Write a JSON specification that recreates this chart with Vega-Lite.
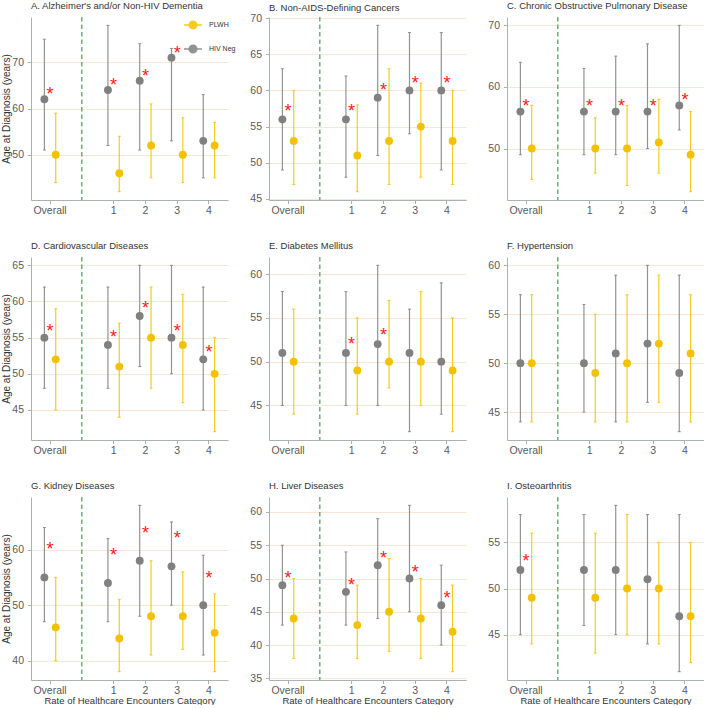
{
"$schema":"https://vega.github.io/schema/vega-lite/v6.json",
"padding":{"left":1,"top":0,"right":0,"bottom":0},
"columns":3,
"spacing":{"row":57,"column":41},
"bounds":"flush",
"datasets":{"d":[
{"p":"A","c":"Overall","g":"HIV Neg","est":62,"lo":51,"hi":75,"star":64},
{"p":"A","c":"Overall","g":"PLWH","est":50,"lo":44,"hi":59,"star":null},
{"p":"A","c":"1","g":"HIV Neg","est":64,"lo":52,"hi":78,"star":65.9},
{"p":"A","c":"1","g":"PLWH","est":46,"lo":42,"hi":54,"star":null},
{"p":"A","c":"2","g":"HIV Neg","est":66,"lo":51,"hi":74,"star":67.9},
{"p":"A","c":"2","g":"PLWH","est":52,"lo":45,"hi":61,"star":null},
{"p":"A","c":"3","g":"HIV Neg","est":71,"lo":53,"hi":73,"star":72.9},
{"p":"A","c":"3","g":"PLWH","est":50,"lo":44,"hi":58,"star":null},
{"p":"A","c":"4","g":"HIV Neg","est":53,"lo":45,"hi":63,"star":null},
{"p":"A","c":"4","g":"PLWH","est":52,"lo":45,"hi":57,"star":null},
{"p":"B","c":"Overall","g":"HIV Neg","est":56,"lo":49,"hi":63,"star":57.7},
{"p":"B","c":"Overall","g":"PLWH","est":53,"lo":47,"hi":60,"star":null},
{"p":"B","c":"1","g":"HIV Neg","est":56,"lo":48,"hi":62,"star":57.7},
{"p":"B","c":"1","g":"PLWH","est":51,"lo":46,"hi":58,"star":null},
{"p":"B","c":"2","g":"HIV Neg","est":59,"lo":51,"hi":69,"star":60.6},
{"p":"B","c":"2","g":"PLWH","est":53,"lo":47,"hi":63,"star":null},
{"p":"B","c":"3","g":"HIV Neg","est":60,"lo":54,"hi":68,"star":61.6},
{"p":"B","c":"3","g":"PLWH","est":55,"lo":48,"hi":61,"star":null},
{"p":"B","c":"4","g":"HIV Neg","est":60,"lo":49,"hi":68,"star":61.6},
{"p":"B","c":"4","g":"PLWH","est":53,"lo":47,"hi":60,"star":null},
{"p":"C","c":"Overall","g":"HIV Neg","est":56,"lo":49,"hi":64,"star":57.6},
{"p":"C","c":"Overall","g":"PLWH","est":50,"lo":45,"hi":57,"star":null},
{"p":"C","c":"1","g":"HIV Neg","est":56,"lo":49,"hi":63,"star":57.6},
{"p":"C","c":"1","g":"PLWH","est":50,"lo":46,"hi":55,"star":null},
{"p":"C","c":"2","g":"HIV Neg","est":56,"lo":49,"hi":65,"star":57.6},
{"p":"C","c":"2","g":"PLWH","est":50,"lo":44,"hi":57,"star":null},
{"p":"C","c":"3","g":"HIV Neg","est":56,"lo":50,"hi":67,"star":57.6},
{"p":"C","c":"3","g":"PLWH","est":51,"lo":46,"hi":58,"star":null},
{"p":"C","c":"4","g":"HIV Neg","est":57,"lo":53,"hi":70,"star":58.6},
{"p":"C","c":"4","g":"PLWH","est":49,"lo":43,"hi":56,"star":null},
{"p":"D","c":"Overall","g":"HIV Neg","est":55,"lo":48,"hi":62,"star":56.5},
{"p":"D","c":"Overall","g":"PLWH","est":52,"lo":45,"hi":59,"star":null},
{"p":"D","c":"1","g":"HIV Neg","est":54,"lo":48,"hi":62,"star":55.6},
{"p":"D","c":"1","g":"PLWH","est":51,"lo":44,"hi":57,"star":null},
{"p":"D","c":"2","g":"HIV Neg","est":58,"lo":51,"hi":65,"star":59.6},
{"p":"D","c":"2","g":"PLWH","est":55,"lo":48,"hi":62,"star":null},
{"p":"D","c":"3","g":"HIV Neg","est":55,"lo":50,"hi":65,"star":56.5},
{"p":"D","c":"3","g":"PLWH","est":54,"lo":46,"hi":61,"star":null},
{"p":"D","c":"4","g":"HIV Neg","est":52,"lo":45,"hi":62,"star":53.6},
{"p":"D","c":"4","g":"PLWH","est":50,"lo":42,"hi":55,"star":null},
{"p":"E","c":"Overall","g":"HIV Neg","est":51,"lo":45,"hi":58,"star":null},
{"p":"E","c":"Overall","g":"PLWH","est":50,"lo":44,"hi":56,"star":null},
{"p":"E","c":"1","g":"HIV Neg","est":51,"lo":45,"hi":58,"star":52.5},
{"p":"E","c":"1","g":"PLWH","est":49,"lo":44,"hi":55,"star":null},
{"p":"E","c":"2","g":"HIV Neg","est":52,"lo":45,"hi":61,"star":53.5},
{"p":"E","c":"2","g":"PLWH","est":50,"lo":47,"hi":57,"star":null},
{"p":"E","c":"3","g":"HIV Neg","est":51,"lo":42,"hi":56,"star":null},
{"p":"E","c":"3","g":"PLWH","est":50,"lo":45,"hi":58,"star":null},
{"p":"E","c":"4","g":"HIV Neg","est":50,"lo":44,"hi":59,"star":null},
{"p":"E","c":"4","g":"PLWH","est":49,"lo":42,"hi":55,"star":null},
{"p":"F","c":"Overall","g":"HIV Neg","est":50,"lo":44,"hi":57,"star":null},
{"p":"F","c":"Overall","g":"PLWH","est":50,"lo":44,"hi":57,"star":null},
{"p":"F","c":"1","g":"HIV Neg","est":50,"lo":45,"hi":56,"star":null},
{"p":"F","c":"1","g":"PLWH","est":49,"lo":44,"hi":55,"star":null},
{"p":"F","c":"2","g":"HIV Neg","est":51,"lo":44,"hi":59,"star":null},
{"p":"F","c":"2","g":"PLWH","est":50,"lo":44,"hi":57,"star":null},
{"p":"F","c":"3","g":"HIV Neg","est":52,"lo":46,"hi":60,"star":null},
{"p":"F","c":"3","g":"PLWH","est":52,"lo":46,"hi":59,"star":null},
{"p":"F","c":"4","g":"HIV Neg","est":49,"lo":43,"hi":59,"star":null},
{"p":"F","c":"4","g":"PLWH","est":51,"lo":44,"hi":57,"star":null},
{"p":"G","c":"Overall","g":"HIV Neg","est":55,"lo":47,"hi":64,"star":60.8},
{"p":"G","c":"Overall","g":"PLWH","est":46,"lo":40,"hi":55,"star":null},
{"p":"G","c":"1","g":"HIV Neg","est":54,"lo":47,"hi":62,"star":59.8},
{"p":"G","c":"1","g":"PLWH","est":44,"lo":38,"hi":51,"star":null},
{"p":"G","c":"2","g":"HIV Neg","est":58,"lo":48,"hi":68,"star":63.8},
{"p":"G","c":"2","g":"PLWH","est":48,"lo":41,"hi":58,"star":null},
{"p":"G","c":"3","g":"HIV Neg","est":57,"lo":50,"hi":65,"star":62.8},
{"p":"G","c":"3","g":"PLWH","est":48,"lo":42,"hi":56,"star":null},
{"p":"G","c":"4","g":"HIV Neg","est":50,"lo":41,"hi":59,"star":55.7},
{"p":"G","c":"4","g":"PLWH","est":45,"lo":38,"hi":52,"star":null},
{"p":"H","c":"Overall","g":"HIV Neg","est":49,"lo":43,"hi":55,"star":50.65},
{"p":"H","c":"Overall","g":"PLWH","est":44,"lo":38,"hi":50,"star":null},
{"p":"H","c":"1","g":"HIV Neg","est":48,"lo":43,"hi":54,"star":49.65},
{"p":"H","c":"1","g":"PLWH","est":43,"lo":38,"hi":49,"star":null},
{"p":"H","c":"2","g":"HIV Neg","est":52,"lo":44,"hi":59,"star":53.65},
{"p":"H","c":"2","g":"PLWH","est":45,"lo":39,"hi":53,"star":null},
{"p":"H","c":"3","g":"HIV Neg","est":50,"lo":45,"hi":61,"star":51.65},
{"p":"H","c":"3","g":"PLWH","est":44,"lo":38,"hi":50,"star":null},
{"p":"H","c":"4","g":"HIV Neg","est":46,"lo":40,"hi":52,"star":47.65},
{"p":"H","c":"4","g":"PLWH","est":42,"lo":36,"hi":49,"star":null},
{"p":"I","c":"Overall","g":"HIV Neg","est":52,"lo":45,"hi":58,"star":53.4},
{"p":"I","c":"Overall","g":"PLWH","est":49,"lo":44,"hi":56,"star":null},
{"p":"I","c":"1","g":"HIV Neg","est":52,"lo":46,"hi":58,"star":null},
{"p":"I","c":"1","g":"PLWH","est":49,"lo":43,"hi":56,"star":null},
{"p":"I","c":"2","g":"HIV Neg","est":52,"lo":45,"hi":59,"star":null},
{"p":"I","c":"2","g":"PLWH","est":50,"lo":45,"hi":58,"star":null},
{"p":"I","c":"3","g":"HIV Neg","est":51,"lo":44,"hi":58,"star":null},
{"p":"I","c":"3","g":"PLWH","est":50,"lo":44,"hi":55,"star":null},
{"p":"I","c":"4","g":"HIV Neg","est":47,"lo":41,"hi":58,"star":null},
{"p":"I","c":"4","g":"PLWH","est":47,"lo":42,"hi":55,"star":null}
]},
"config":{
"font":"Liberation Sans",
"view":{"stroke":null},
"axis":{"domainColor":"#a9b1b1","tickColor":"#a9b1b1","labelColor":"#5a5a5a","labelFontSize":10.5,"titleFontSize":10,"titleFontWeight":"normal","titleColor":"#333333","tickSize":3.5,"labelFont":"Liberation Sans","titleFont":"Liberation Sans","labelOverlap":false},
"axisX":{"grid":false,"labelAngle":0,"labelPadding":2,"titlePadding":-1,"titleFontSize":9.5},
"axisY":{"grid":true,"gridColor":"#fbe6d6","gridWidth":1,"labelPadding":4,"titlePadding":0,"tickCount":12},
"title":{"fontSize":9.5,"fontWeight":"normal","anchor":"start","color":"#333333","offset":6,"font":"Liberation Sans","frame":"group"}
},
"concat":[
{"width":197,"height":183,"title":"A. Alzheimer's and/or Non-HIV Dementia","data":{"name":"d"},"transform":[{"filter":"datum.p=='A'"}],"layer":[
{"data":{"values":[{"p":"A"}]},"mark":{"type":"rule","color":"#4e9a4e","strokeDash":[4.5,3],"strokeWidth":1.2},"encoding":{"x":{"datum":"gap","type":"nominal"}}},
{"mark":{"type":"rule","strokeWidth":1.2,"opacity":0.85},"encoding":{"x":{"field":"c","type":"nominal"},"xOffset":{"field":"g","type":"nominal"},"y":{"field":"lo","type":"quantitative"},"y2":{"field":"hi"},"color":{"field":"g","type":"nominal"}}},
{"mark":{"type":"tick","thickness":1,"size":3,"opacity":0.85},"encoding":{"x":{"field":"c","type":"nominal"},"xOffset":{"field":"g","type":"nominal"},"y":{"field":"lo","type":"quantitative"},"color":{"field":"g","type":"nominal"}}},
{"mark":{"type":"tick","thickness":1,"size":3,"opacity":0.85},"encoding":{"x":{"field":"c","type":"nominal"},"xOffset":{"field":"g","type":"nominal"},"y":{"field":"hi","type":"quantitative"},"color":{"field":"g","type":"nominal"}}},
{"mark":{"type":"point","filled":true,"size":62,"opacity":1},"encoding":{
"x":{"field":"c","type":"nominal","scale":{"type":"band","domain":["Overall","gap","1","2","3","4"],"paddingInner":0,"paddingOuter":0.1},"axis":{"values":["Overall","1","2","3","4"],"title":null}},
"xOffset":{"field":"g","type":"nominal","scale":{"domain":["HIV Neg","PLWH"],"paddingInner":0,"paddingOuter":0.4}},
"y":{"field":"est","type":"quantitative","scale":{"domain":[40.2,79.8],"nice":false,"zero":false},"axis":{"values":[50,60,70],"title":"Age at Diagnosis (years)"}},
"color":{"field":"g","type":"nominal","scale":{"domain":["PLWH","HIV Neg"],"range":["#f2c200","#808080"]},"legend":{"orient":"none","legendX":152,"legendY":-2,"title":null,"symbolType":"M-1,0L1,0M0.42,0A0.42,0.42,0,1,1,-0.42,0A0.42,0.42,0,1,1,0.42,0Z","symbolSize":320,"labelFontSize":7,"labelColor":"#333333","rowPadding":7,"labelOffset":6,"encode":{"symbols":{"update":{"stroke":{"scale":"color","field":"value"},"strokeWidth":{"value":1.3}}}}}}}},
{"transform":[{"filter":"datum.star != null"}],"mark":{"type":"text","text":"*","color":"#ff1a1a","fontSize":18,"dy":10,"baseline":"alphabetic"},"encoding":{"x":{"field":"c","type":"nominal"},"y":{"field":"star","type":"quantitative"}}}
]},
{"width":197,"height":183,"title":{"text":"B. Non-AIDS-Defining Cancers","offset":1},"data":{"name":"d"},"transform":[{"filter":"datum.p=='B'"}],"layer":[
{"data":{"values":[{"p":"B"}]},"mark":{"type":"rule","color":"#4e9a4e","strokeDash":[4.5,3],"strokeWidth":1.2},"encoding":{"x":{"datum":"gap","type":"nominal"}}},
{"mark":{"type":"rule","strokeWidth":1.2,"opacity":0.85},"encoding":{"x":{"field":"c","type":"nominal"},"xOffset":{"field":"g","type":"nominal"},"y":{"field":"lo","type":"quantitative"},"y2":{"field":"hi"},"color":{"field":"g","type":"nominal"}}},
{"mark":{"type":"tick","thickness":1,"size":3,"opacity":0.85},"encoding":{"x":{"field":"c","type":"nominal"},"xOffset":{"field":"g","type":"nominal"},"y":{"field":"lo","type":"quantitative"},"color":{"field":"g","type":"nominal"}}},
{"mark":{"type":"tick","thickness":1,"size":3,"opacity":0.85},"encoding":{"x":{"field":"c","type":"nominal"},"xOffset":{"field":"g","type":"nominal"},"y":{"field":"hi","type":"quantitative"},"color":{"field":"g","type":"nominal"}}},
{"mark":{"type":"point","filled":true,"size":62,"opacity":1},"encoding":{
"x":{"field":"c","type":"nominal","scale":{"type":"band","domain":["Overall","gap","1","2","3","4"],"paddingInner":0,"paddingOuter":0.1},"axis":{"values":["Overall","1","2","3","4"],"title":null}},
"xOffset":{"field":"g","type":"nominal","scale":{"domain":["HIV Neg","PLWH"],"paddingInner":0,"paddingOuter":0.4}},
"y":{"field":"est","type":"quantitative","scale":{"domain":[44.85,70.15],"nice":false,"zero":false},"axis":{"values":[45,50,55,60,65,70],"title":null}},
"color":{"field":"g","type":"nominal"}}},
{"transform":[{"filter":"datum.star != null"}],"mark":{"type":"text","text":"*","color":"#ff1a1a","fontSize":18,"dy":10,"baseline":"alphabetic"},"encoding":{"x":{"field":"c","type":"nominal"},"y":{"field":"star","type":"quantitative"}}}
]},
{"width":197,"height":183,"title":"C. Chronic Obstructive Pulmonary Disease","data":{"name":"d"},"transform":[{"filter":"datum.p=='C'"}],"layer":[
{"data":{"values":[{"p":"C"}]},"mark":{"type":"rule","color":"#4e9a4e","strokeDash":[4.5,3],"strokeWidth":1.2},"encoding":{"x":{"datum":"gap","type":"nominal"}}},
{"mark":{"type":"rule","strokeWidth":1.2,"opacity":0.85},"encoding":{"x":{"field":"c","type":"nominal"},"xOffset":{"field":"g","type":"nominal"},"y":{"field":"lo","type":"quantitative"},"y2":{"field":"hi"},"color":{"field":"g","type":"nominal"}}},
{"mark":{"type":"tick","thickness":1,"size":3,"opacity":0.85},"encoding":{"x":{"field":"c","type":"nominal"},"xOffset":{"field":"g","type":"nominal"},"y":{"field":"lo","type":"quantitative"},"color":{"field":"g","type":"nominal"}}},
{"mark":{"type":"tick","thickness":1,"size":3,"opacity":0.85},"encoding":{"x":{"field":"c","type":"nominal"},"xOffset":{"field":"g","type":"nominal"},"y":{"field":"hi","type":"quantitative"},"color":{"field":"g","type":"nominal"}}},
{"mark":{"type":"point","filled":true,"size":62,"opacity":1},"encoding":{
"x":{"field":"c","type":"nominal","scale":{"type":"band","domain":["Overall","gap","1","2","3","4"],"paddingInner":0,"paddingOuter":0.1},"axis":{"values":["Overall","1","2","3","4"],"title":null}},
"xOffset":{"field":"g","type":"nominal","scale":{"domain":["HIV Neg","PLWH"],"paddingInner":0,"paddingOuter":0.4}},
"y":{"field":"est","type":"quantitative","scale":{"domain":[41.65,71.35],"nice":false,"zero":false},"axis":{"values":[50,60,70],"title":null}},
"color":{"field":"g","type":"nominal"}}},
{"transform":[{"filter":"datum.star != null"}],"mark":{"type":"text","text":"*","color":"#ff1a1a","fontSize":18,"dy":10,"baseline":"alphabetic"},"encoding":{"x":{"field":"c","type":"nominal"},"y":{"field":"star","type":"quantitative"}}}
]},
{"width":197,"height":183,"title":"D. Cardiovascular Diseases","data":{"name":"d"},"transform":[{"filter":"datum.p=='D'"}],"layer":[
{"data":{"values":[{"p":"D"}]},"mark":{"type":"rule","color":"#4e9a4e","strokeDash":[4.5,3],"strokeWidth":1.2},"encoding":{"x":{"datum":"gap","type":"nominal"}}},
{"mark":{"type":"rule","strokeWidth":1.2,"opacity":0.85},"encoding":{"x":{"field":"c","type":"nominal"},"xOffset":{"field":"g","type":"nominal"},"y":{"field":"lo","type":"quantitative"},"y2":{"field":"hi"},"color":{"field":"g","type":"nominal"}}},
{"mark":{"type":"tick","thickness":1,"size":3,"opacity":0.85},"encoding":{"x":{"field":"c","type":"nominal"},"xOffset":{"field":"g","type":"nominal"},"y":{"field":"lo","type":"quantitative"},"color":{"field":"g","type":"nominal"}}},
{"mark":{"type":"tick","thickness":1,"size":3,"opacity":0.85},"encoding":{"x":{"field":"c","type":"nominal"},"xOffset":{"field":"g","type":"nominal"},"y":{"field":"hi","type":"quantitative"},"color":{"field":"g","type":"nominal"}}},
{"mark":{"type":"point","filled":true,"size":62,"opacity":1},"encoding":{
"x":{"field":"c","type":"nominal","scale":{"type":"band","domain":["Overall","gap","1","2","3","4"],"paddingInner":0,"paddingOuter":0.1},"axis":{"values":["Overall","1","2","3","4"],"title":null}},
"xOffset":{"field":"g","type":"nominal","scale":{"domain":["HIV Neg","PLWH"],"paddingInner":0,"paddingOuter":0.4}},
"y":{"field":"est","type":"quantitative","scale":{"domain":[40.85,66.15],"nice":false,"zero":false},"axis":{"values":[45,50,55,60,65],"title":"Age at Diagnosis (years)"}},
"color":{"field":"g","type":"nominal"}}},
{"transform":[{"filter":"datum.star != null"}],"mark":{"type":"text","text":"*","color":"#ff1a1a","fontSize":18,"dy":10,"baseline":"alphabetic"},"encoding":{"x":{"field":"c","type":"nominal"},"y":{"field":"star","type":"quantitative"}}}
]},
{"width":197,"height":183,"title":"E. Diabetes Mellitus","data":{"name":"d"},"transform":[{"filter":"datum.p=='E'"}],"layer":[
{"data":{"values":[{"p":"E"}]},"mark":{"type":"rule","color":"#4e9a4e","strokeDash":[4.5,3],"strokeWidth":1.2},"encoding":{"x":{"datum":"gap","type":"nominal"}}},
{"mark":{"type":"rule","strokeWidth":1.2,"opacity":0.85},"encoding":{"x":{"field":"c","type":"nominal"},"xOffset":{"field":"g","type":"nominal"},"y":{"field":"lo","type":"quantitative"},"y2":{"field":"hi"},"color":{"field":"g","type":"nominal"}}},
{"mark":{"type":"tick","thickness":1,"size":3,"opacity":0.85},"encoding":{"x":{"field":"c","type":"nominal"},"xOffset":{"field":"g","type":"nominal"},"y":{"field":"lo","type":"quantitative"},"color":{"field":"g","type":"nominal"}}},
{"mark":{"type":"tick","thickness":1,"size":3,"opacity":0.85},"encoding":{"x":{"field":"c","type":"nominal"},"xOffset":{"field":"g","type":"nominal"},"y":{"field":"hi","type":"quantitative"},"color":{"field":"g","type":"nominal"}}},
{"mark":{"type":"point","filled":true,"size":62,"opacity":1},"encoding":{
"x":{"field":"c","type":"nominal","scale":{"type":"band","domain":["Overall","gap","1","2","3","4"],"paddingInner":0,"paddingOuter":0.1},"axis":{"values":["Overall","1","2","3","4"],"title":null}},
"xOffset":{"field":"g","type":"nominal","scale":{"domain":["HIV Neg","PLWH"],"paddingInner":0,"paddingOuter":0.4}},
"y":{"field":"est","type":"quantitative","scale":{"domain":[41.05,61.95],"nice":false,"zero":false},"axis":{"values":[45,50,55,60],"title":null}},
"color":{"field":"g","type":"nominal"}}},
{"transform":[{"filter":"datum.star != null"}],"mark":{"type":"text","text":"*","color":"#ff1a1a","fontSize":18,"dy":10,"baseline":"alphabetic"},"encoding":{"x":{"field":"c","type":"nominal"},"y":{"field":"star","type":"quantitative"}}}
]},
{"width":197,"height":183,"title":"F. Hypertension","data":{"name":"d"},"transform":[{"filter":"datum.p=='F'"}],"layer":[
{"data":{"values":[{"p":"F"}]},"mark":{"type":"rule","color":"#4e9a4e","strokeDash":[4.5,3],"strokeWidth":1.2},"encoding":{"x":{"datum":"gap","type":"nominal"}}},
{"mark":{"type":"rule","strokeWidth":1.2,"opacity":0.85},"encoding":{"x":{"field":"c","type":"nominal"},"xOffset":{"field":"g","type":"nominal"},"y":{"field":"lo","type":"quantitative"},"y2":{"field":"hi"},"color":{"field":"g","type":"nominal"}}},
{"mark":{"type":"tick","thickness":1,"size":3,"opacity":0.85},"encoding":{"x":{"field":"c","type":"nominal"},"xOffset":{"field":"g","type":"nominal"},"y":{"field":"lo","type":"quantitative"},"color":{"field":"g","type":"nominal"}}},
{"mark":{"type":"tick","thickness":1,"size":3,"opacity":0.85},"encoding":{"x":{"field":"c","type":"nominal"},"xOffset":{"field":"g","type":"nominal"},"y":{"field":"hi","type":"quantitative"},"color":{"field":"g","type":"nominal"}}},
{"mark":{"type":"point","filled":true,"size":62,"opacity":1},"encoding":{
"x":{"field":"c","type":"nominal","scale":{"type":"band","domain":["Overall","gap","1","2","3","4"],"paddingInner":0,"paddingOuter":0.1},"axis":{"values":["Overall","1","2","3","4"],"title":null}},
"xOffset":{"field":"g","type":"nominal","scale":{"domain":["HIV Neg","PLWH"],"paddingInner":0,"paddingOuter":0.4}},
"y":{"field":"est","type":"quantitative","scale":{"domain":[42.15,60.85],"nice":false,"zero":false},"axis":{"values":[45,50,55,60],"title":null}},
"color":{"field":"g","type":"nominal"}}}
]},
{"width":197,"height":183,"title":"G. Kidney Diseases","data":{"name":"d"},"transform":[{"filter":"datum.p=='G'"}],"layer":[
{"data":{"values":[{"p":"G"}]},"mark":{"type":"rule","color":"#4e9a4e","strokeDash":[4.5,3],"strokeWidth":1.2},"encoding":{"x":{"datum":"gap","type":"nominal"}}},
{"mark":{"type":"rule","strokeWidth":1.2,"opacity":0.85},"encoding":{"x":{"field":"c","type":"nominal"},"xOffset":{"field":"g","type":"nominal"},"y":{"field":"lo","type":"quantitative"},"y2":{"field":"hi"},"color":{"field":"g","type":"nominal"}}},
{"mark":{"type":"tick","thickness":1,"size":3,"opacity":0.85},"encoding":{"x":{"field":"c","type":"nominal"},"xOffset":{"field":"g","type":"nominal"},"y":{"field":"lo","type":"quantitative"},"color":{"field":"g","type":"nominal"}}},
{"mark":{"type":"tick","thickness":1,"size":3,"opacity":0.85},"encoding":{"x":{"field":"c","type":"nominal"},"xOffset":{"field":"g","type":"nominal"},"y":{"field":"hi","type":"quantitative"},"color":{"field":"g","type":"nominal"}}},
{"mark":{"type":"point","filled":true,"size":62,"opacity":1},"encoding":{
"x":{"field":"c","type":"nominal","scale":{"type":"band","domain":["Overall","gap","1","2","3","4"],"paddingInner":0,"paddingOuter":0.1},"axis":{"values":["Overall","1","2","3","4"],"title":"Rate of Healthcare Encounters Category"}},
"xOffset":{"field":"g","type":"nominal","scale":{"domain":["HIV Neg","PLWH"],"paddingInner":0,"paddingOuter":0.4}},
"y":{"field":"est","type":"quantitative","scale":{"domain":[36.5,69.5],"nice":false,"zero":false},"axis":{"values":[40,50,60],"title":"Age at Diagnosis (years)"}},
"color":{"field":"g","type":"nominal"}}},
{"transform":[{"filter":"datum.star != null"}],"mark":{"type":"text","text":"*","color":"#ff1a1a","fontSize":18,"dy":10,"baseline":"alphabetic"},"encoding":{"x":{"field":"c","type":"nominal"},"y":{"field":"star","type":"quantitative"}}}
]},
{"width":197,"height":183,"title":"H. Liver Diseases","data":{"name":"d"},"transform":[{"filter":"datum.p=='H'"}],"layer":[
{"data":{"values":[{"p":"H"}]},"mark":{"type":"rule","color":"#4e9a4e","strokeDash":[4.5,3],"strokeWidth":1.2},"encoding":{"x":{"datum":"gap","type":"nominal"}}},
{"mark":{"type":"rule","strokeWidth":1.2,"opacity":0.85},"encoding":{"x":{"field":"c","type":"nominal"},"xOffset":{"field":"g","type":"nominal"},"y":{"field":"lo","type":"quantitative"},"y2":{"field":"hi"},"color":{"field":"g","type":"nominal"}}},
{"mark":{"type":"tick","thickness":1,"size":3,"opacity":0.85},"encoding":{"x":{"field":"c","type":"nominal"},"xOffset":{"field":"g","type":"nominal"},"y":{"field":"lo","type":"quantitative"},"color":{"field":"g","type":"nominal"}}},
{"mark":{"type":"tick","thickness":1,"size":3,"opacity":0.85},"encoding":{"x":{"field":"c","type":"nominal"},"xOffset":{"field":"g","type":"nominal"},"y":{"field":"hi","type":"quantitative"},"color":{"field":"g","type":"nominal"}}},
{"mark":{"type":"point","filled":true,"size":62,"opacity":1},"encoding":{
"x":{"field":"c","type":"nominal","scale":{"type":"band","domain":["Overall","gap","1","2","3","4"],"paddingInner":0,"paddingOuter":0.1},"axis":{"values":["Overall","1","2","3","4"],"title":"Rate of Healthcare Encounters Category"}},
"xOffset":{"field":"g","type":"nominal","scale":{"domain":["HIV Neg","PLWH"],"paddingInner":0,"paddingOuter":0.4}},
"y":{"field":"est","type":"quantitative","scale":{"domain":[34.75,62.25],"nice":false,"zero":false},"axis":{"values":[35,40,45,50,55,60],"title":null}},
"color":{"field":"g","type":"nominal"}}},
{"transform":[{"filter":"datum.star != null"}],"mark":{"type":"text","text":"*","color":"#ff1a1a","fontSize":18,"dy":10,"baseline":"alphabetic"},"encoding":{"x":{"field":"c","type":"nominal"},"y":{"field":"star","type":"quantitative"}}}
]},
{"width":197,"height":183,"title":"I. Osteoarthritis","data":{"name":"d"},"transform":[{"filter":"datum.p=='I'"}],"layer":[
{"data":{"values":[{"p":"I"}]},"mark":{"type":"rule","color":"#4e9a4e","strokeDash":[4.5,3],"strokeWidth":1.2},"encoding":{"x":{"datum":"gap","type":"nominal"}}},
{"mark":{"type":"rule","strokeWidth":1.2,"opacity":0.85},"encoding":{"x":{"field":"c","type":"nominal"},"xOffset":{"field":"g","type":"nominal"},"y":{"field":"lo","type":"quantitative"},"y2":{"field":"hi"},"color":{"field":"g","type":"nominal"}}},
{"mark":{"type":"tick","thickness":1,"size":3,"opacity":0.85},"encoding":{"x":{"field":"c","type":"nominal"},"xOffset":{"field":"g","type":"nominal"},"y":{"field":"lo","type":"quantitative"},"color":{"field":"g","type":"nominal"}}},
{"mark":{"type":"tick","thickness":1,"size":3,"opacity":0.85},"encoding":{"x":{"field":"c","type":"nominal"},"xOffset":{"field":"g","type":"nominal"},"y":{"field":"hi","type":"quantitative"},"color":{"field":"g","type":"nominal"}}},
{"mark":{"type":"point","filled":true,"size":62,"opacity":1},"encoding":{
"x":{"field":"c","type":"nominal","scale":{"type":"band","domain":["Overall","gap","1","2","3","4"],"paddingInner":0,"paddingOuter":0.1},"axis":{"values":["Overall","1","2","3","4"],"title":"Rate of Healthcare Encounters Category"}},
"xOffset":{"field":"g","type":"nominal","scale":{"domain":["HIV Neg","PLWH"],"paddingInner":0,"paddingOuter":0.4}},
"y":{"field":"est","type":"quantitative","scale":{"domain":[40.1,59.9],"nice":false,"zero":false},"axis":{"values":[45,50,55],"title":null}},
"color":{"field":"g","type":"nominal"}}},
{"transform":[{"filter":"datum.star != null"}],"mark":{"type":"text","text":"*","color":"#ff1a1a","fontSize":18,"dy":10,"baseline":"alphabetic"},"encoding":{"x":{"field":"c","type":"nominal"},"y":{"field":"star","type":"quantitative"}}}
]}
]
}
